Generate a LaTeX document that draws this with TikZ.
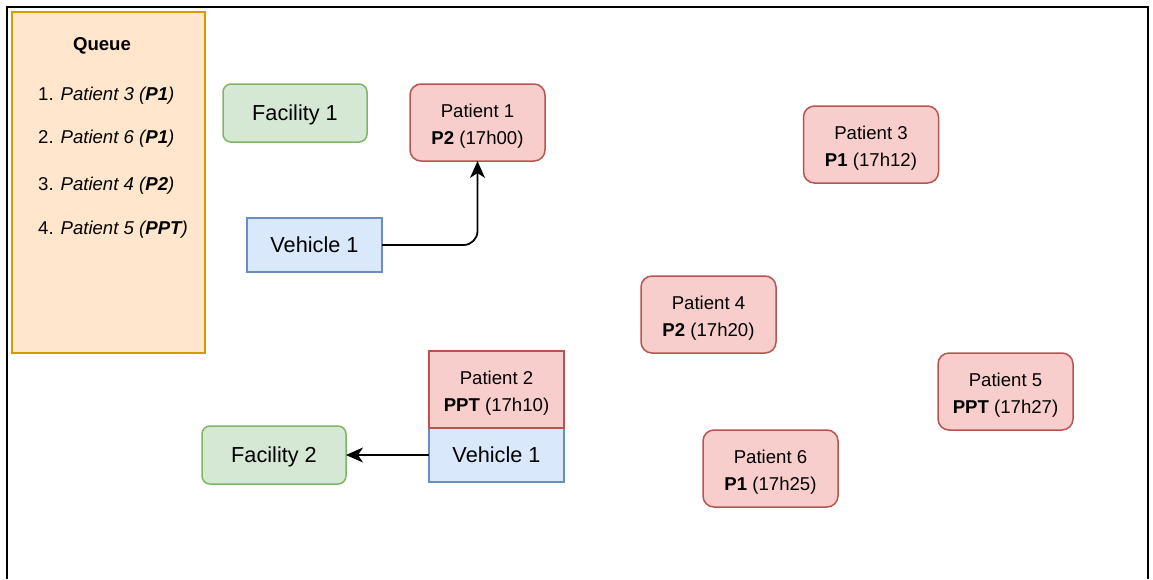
\documentclass[tikz,border=0pt]{standalone}
\usepackage{fontspec}
\setmainfont{Liberation Sans}
\usetikzlibrary{arrows.meta}
\definecolor{pfill}{HTML}{F8CECC}
\definecolor{pdraw}{HTML}{B85450}
\definecolor{ffill}{HTML}{D5E8D4}
\definecolor{fdraw}{HTML}{82B366}
\definecolor{vfill}{HTML}{DAE8FC}
\definecolor{vdraw}{HTML}{6C8EBF}
\definecolor{qfill}{HTML}{FFE6CC}
\definecolor{qdraw}{HTML}{D79B00}
\tikzset{
  box/.style={inner sep=0pt, outer sep=0pt, line width=1.5pt, align=center},
  patient/.style={box, fill=pfill, draw=pdraw, rounded corners=11pt,
    minimum width=135pt, minimum height=77pt},
  patientsq/.style={patient, rounded corners=0pt},
  ptext/.style={inner sep=0pt, align=center, font=\fontsize{18.6}{27.5}\selectfont},
  facility/.style={box, fill=ffill, draw=fdraw, rounded corners=8pt,
    minimum width=144pt, minimum height=58pt,
    font=\fontsize{21.7}{26}\selectfont},
  vehicle/.style={box, fill=vfill, draw=vdraw,
    minimum width=135pt, minimum height=54pt,
    font=\fontsize{21.7}{26}\selectfont},
  qitem/.style={anchor=base west, inner sep=0pt, font=\fontsize{18.6}{22}\selectfont},
  conn/.style={line width=1.8pt, -{Stealth[length=17pt,width=15pt,inset=5pt]}},
}
\begin{document}
\begin{tikzpicture}[x=1pt, y=-1pt]
\useasboundingbox (0,0) rectangle (1153,579);
% frame
\draw[line width=2.2pt] (7,579) -- (7,7) -- (1148,7) -- (1148,579);
% queue
\node[box, fill=qfill, draw=qdraw, minimum width=193pt, minimum height=341pt] (queue) at (108.5,182.5) {};
\node[anchor=base, inner sep=0pt, font=\fontsize{18.6}{22}\selectfont\bfseries] (qtitle) at (102,50.5) {Queue};
\node[qitem] (q1) at (38,100.7) {1. \textit{Patient 3 (\textbf{P1})}};
\node[qitem] (q2) at (38,143.5) {2. \textit{Patient 6 (\textbf{P1})}};
\node[qitem] (q3) at (38,190.5) {3. \textit{Patient 4 (\textbf{P2})}};
\node[qitem] (q4) at (38,234.5) {4. \textit{Patient 5 (\textbf{PPT})}};
% facilities
\node[facility] (f1) at (295,113) {};
\node[facility, draw=none, fill=none] (f1t) at ([yshift=-2pt]f1.center) {Facility 1};
\node[facility] (f2) at (274,455) {};
\node[facility, draw=none, fill=none] (f2t) at ([yshift=-2pt]f2.center) {Facility 2};
% vehicles
\node[vehicle] (v1) at (314.5,245) {Vehicle 1};
\node[vehicle] (v1b) at (496.5,455) {Vehicle 1};
% patients
\node[patient] (p1) at (477.5,122.5) {};
\node[ptext] (p1t) at ([yshift=-3.5pt]p1.center) {Patient 1\\\textbf{P2} (17h00)};
\node[patientsq] (p2) at (496.5,389.5) {};
\node[ptext] (p2t) at ([yshift=-3.5pt]p2.center) {Patient 2\\\textbf{PPT} (17h10)};
\node[patient] (p3) at (871,144.5) {};
\node[ptext] (p3t) at ([yshift=-3.5pt]p3.center) {Patient 3\\\textbf{P1} (17h12)};
\node[patient] (p4) at (708.5,314.5) {};
\node[ptext] (p4t) at ([yshift=-3.5pt]p4.center) {Patient 4\\\textbf{P2} (17h20)};
\node[patient] (p5) at (1005.5,391.5) {};
\node[ptext] (p5t) at ([yshift=-3.5pt]p5.center) {Patient 5\\\textbf{PPT} (17h27)};
\node[patient] (p6) at (770.5,468.5) {};
\node[ptext] (p6t) at ([yshift=-3.5pt]p6.center) {Patient 6\\\textbf{P1} (17h25)};
% connectors
\draw[conn, rounded corners=14pt] (v1.east) -| (p1.south);
\draw[conn] (v1b.west) -- (f2.east);
\end{tikzpicture}
\end{document}
